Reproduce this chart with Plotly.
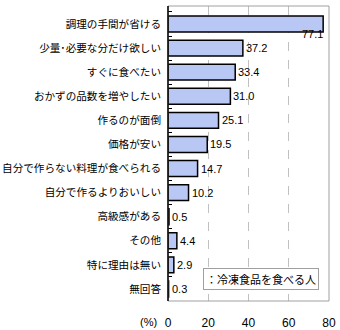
import plotly.graph_objects as go

# Reasons for eating frozen food (%), top to bottom
categories = [
    "調理の手間が省ける",
    "少量･必要な分だけ欲しい",
    "すぐに食べたい",
    "おかずの品数を増やしたい",
    "作るのが面倒",
    "価格が安い",
    "自分で作らない料理が食べられる",
    "自分で作るよりおいしい",
    "高級感がある",
    "その他",
    "特に理由は無い",
    "無回答",
]
values = [77.1, 37.2, 33.4, 31.0, 25.1, 19.5, 14.7, 10.2, 0.5, 4.4, 2.9, 0.3]
series_name = "冷凍食品を食べる人"
x_ticks = [0, 20, 40, 60, 80]

JP_FONT = "MS UI Gothic, Noto Sans CJK JP, sans-serif"
NUM_FONT = "Liberation Sans, Arial, sans-serif"

fig = go.Figure()
fig.add_trace(go.Bar(
    x=values,
    y=categories,
    orientation="h",
    name=series_name,
    marker=dict(color="#b9c7f4", line=dict(color="#000000", width=1.5)),
    showlegend=False,
))

# value labels beside each bar; the longest one sits under its bar end
annotations = []
for i, (cat, v) in enumerate(zip(categories, values)):
    if i == 0:
        annotations.append(dict(
            x=v, y=cat, xref="x", yref="y", text=f"{v:.1f}",
            showarrow=False, xanchor="right", yanchor="middle",
            yshift=-10, xshift=2,
            font=dict(family=NUM_FONT, size=11, color="#000000"),
        ))
    else:
        annotations.append(dict(
            x=v, y=cat, xref="x", yref="y", text=f"{v:.1f}",
            showarrow=False, xanchor="left", yanchor="middle",
            xshift=1,
            font=dict(family=NUM_FONT, size=11, color="#000000"),
        ))

# series key box
annotations.append(dict(
    x=0.215, y=0.075, xref="paper", yref="paper",
    text="：" + series_name, showarrow=False,
    xanchor="left", yanchor="middle",
    bgcolor="#ffffff", bordercolor="#a0a0a0", borderwidth=1, borderpad=2,
    font=dict(family=JP_FONT, size=11, color="#000000"),
))
# unit label
annotations.append(dict(
    x=-0.055, y=-0.07, xref="paper", yref="paper",
    text="(%)", showarrow=False, xanchor="right", yanchor="middle",
    font=dict(family=NUM_FONT, size=11, color="#000000"),
))

fig.update_layout(
    width=340, height=330,
    margin=dict(l=168, r=11, t=6, b=29),
    paper_bgcolor="#ffffff",
    plot_bgcolor="#ffffff",
    bargap=0.34,
    annotations=annotations,
    shapes=[
        dict(type="rect", xref="paper", yref="paper", x0=0, x1=1, y0=0, y1=1,
             line=dict(color="#a0a0a0", width=1), layer="above"),
        dict(type="line", xref="paper", yref="paper", x0=0, x1=0, y0=0, y1=1,
             line=dict(color="#000000", width=1.5), layer="above"),
    ],
)

fig.update_xaxes(
    range=[0, 80],
    tickvals=x_ticks,
    ticktext=[str(t) for t in x_ticks],
    showgrid=True,
    gridcolor="#c0c0c0",
    griddash="dash",
    gridwidth=1,
    zeroline=False,
    showline=False,
    ticks="",
    automargin=False,
    ticklabelstandoff=13,
    tickfont=dict(family=NUM_FONT, size=12, color="#000000"),
)

fig.update_yaxes(
    autorange="reversed",
    showgrid=False,
    zeroline=False,
    showline=False,
    ticks="inside",
    ticklen=4,
    tickcolor="#000000",
    tickwidth=1,
    tickson="boundaries",
    automargin=False,
    ticklabelstandoff=6,
    tickfont=dict(family=JP_FONT, size=10.6, color="#000000"),
)

fig.write_html("out.html")
